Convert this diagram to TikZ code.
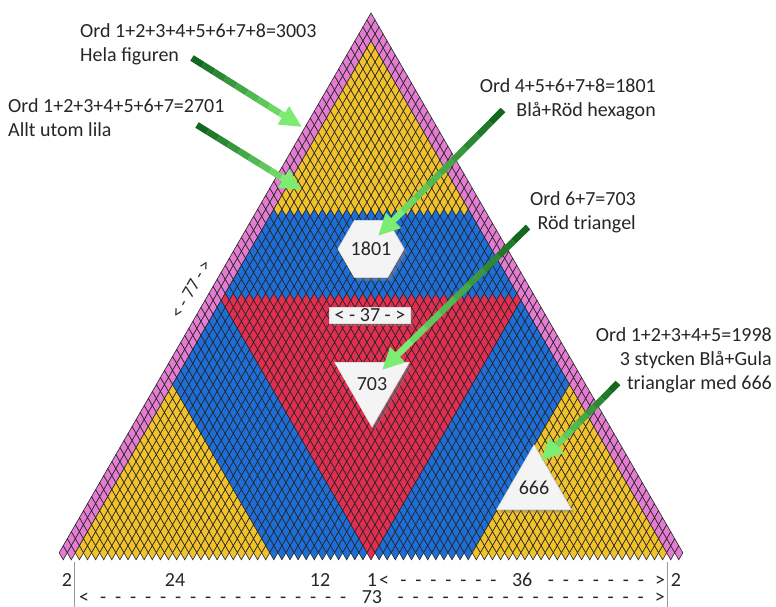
\documentclass[tikz,border=0pt]{standalone}
\usepackage{fontspec}
\setmainfont{Carlito}
\usetikzlibrary{calc,arrows.meta,shapes.geometric,shadows}
\definecolor{lila}{RGB}{228,124,210}
\definecolor{gul}{RGB}{242,194,42}
\definecolor{bla}{RGB}{30,110,216}
\definecolor{rod}{RGB}{226,46,80}
\definecolor{morkgron}{RGB}{18,105,30}
\definecolor{ljusgron}{RGB}{125,236,115}
\tikzset{
    cell/.style={draw=black!85,line width=0.6pt},
    lbl/.style={font=\fontsize{20}{24}\selectfont,text=black!85,inner sep=0pt},
    skylt/.style={lbl,fill=gray!9,draw=gray!25,line width=0.6pt,
        drop shadow={shadow xshift=3pt,shadow yshift=-3pt,opacity=0.45}},
    pilskaft/.style={line width=6.5pt},
    matlinje/.style={gray!80,line width=0.7pt}
}
% green arrow, dark at the tail and light at the head
\newcommand\pil[2]{%
  \foreach \s in {0,...,7}{
    \pgfmathtruncatemacro\p{\s*12}
    \draw[pilskaft,draw=ljusgron!\p!morkgron] ($(#1)!\s/10!(#2)$) -- ($(#1)!{(\s+1)/10}!(#2)$);
  }
  \draw[pilskaft,draw=ljusgron,-{Triangle[length=22pt,width=20pt]}] ($(#1)!0.8!(#2)$) -- (#2);
}
\newcommand\mattext[2]{\makebox[#1]{<\cleaders\hbox to 15pt{\hss-\hss}\hfill\ #2\ \cleaders\hbox to 15pt{\hss-\hss}\hfill>}}

\begin{document}
\begin{tikzpicture}[x=1pt,y=-1pt]
\useasboundingbox (0,0) rectangle (776,607);
% 77 rows of diamonds, row k has k cells
\foreach \k in {1,...,77}{
  \foreach \j in {1,...,\k}{
    \pgfmathtruncatemacro\m{max(\j-3,\k-\j-2,77-\k)}
    \pgfmathtruncatemacro\n{min(\j,\k-\j+1)}
    \ifnum\n<3 \def\cc{lila}\else\ifnum\m>48 \def\cc{gul}\else\ifnum\m>36 \def\cc{bla}\else\def\cc{rod}\fi\fi\fi
    \filldraw[cell,fill=\cc] ({371+(\j-\k/2-1)*8.1},{13+\k*7.01}) -- ++(4.05,-7.01) -- ++(4.05,7.01) -- ++(-4.05,7.01) -- cycle;
  }
}

\node[skylt,regular polygon,regular polygon sides=6,minimum size=64pt] (hex1801) at (371,249) {1801};
\node[skylt,inner xsep=5pt,inner ysep=1.5pt] (len37) at (370,315) {< - 37 - >};
\node[skylt,regular polygon,regular polygon sides=3,shape border rotate=180,minimum size=85pt] (tri703) at (372,384) {703};
\node[skylt,regular polygon,regular polygon sides=3,minimum size=82pt] (tri666) at (534,488) {666};
\node[lbl,font=\fontsize{18}{20}\selectfont,rotate=60] (sida77) at (191,289) {< - 77 - >};

\node[lbl,align=left,anchor=north west] (ord3003) at (80,23) {Ord 1+2+3+4+5+6+7+8=3003\\Hela figuren};
\node[lbl,align=left,anchor=north west] (ord2701) at (8,98) {Ord 1+2+3+4+5+6+7=2701\\Allt utom lila};
\node[lbl,align=right,anchor=north east] (ord1801) at (656,78) {Ord 4+5+6+7+8=1801\\Blå+Röd hexagon};
\node[lbl,align=right,anchor=north east] (ord703) at (636,191) {Ord 6+7=703\\Röd triangel};
\node[lbl,align=right,anchor=north east] (ord1998) at (772,327) {Ord 1+2+3+4+5=1998\\3 stycken Blå+Gula\\trianglar med 666};

\coordinate (fot1) at (192,58);   \coordinate (spets1) at (302,127);
\coordinate (fot2) at (197,125);  \coordinate (spets2) at (302,190);
\coordinate (fot3) at (503,110);  \coordinate (spets3) at (378,236);
\coordinate (fot4) at (528,227);  \coordinate (spets4) at (382,370);
\coordinate (fot5) at (618,383);  \coordinate (spets5) at (541,461);
\pil{fot1}{spets1}
\pil{fot2}{spets2}
\pil{fot3}{spets3}
\pil{fot4}{spets4}
\pil{fot5}{spets5}

% measures under the base
\draw[matlinje] (74,562) -- (74,607);
\draw[matlinje] (667,562) -- (667,607);
\node[lbl,anchor=base] (bas2v) at (67,586) {2};
\node[lbl,anchor=base] (bas24) at (175,586) {24};
\node[lbl,anchor=base] (bas12) at (320,586) {12};
\node[lbl,anchor=base] (bas1) at (372,586) {1};
\node[lbl,anchor=base west] (bas36) at (379,586) {\mattext{286pt}{36}};
\node[lbl,anchor=base] (bas2h) at (676,586) {2};
\node[lbl,anchor=base] (bas73) at (372,603) {\mattext{586pt}{73}};
\end{tikzpicture}
\end{document}
